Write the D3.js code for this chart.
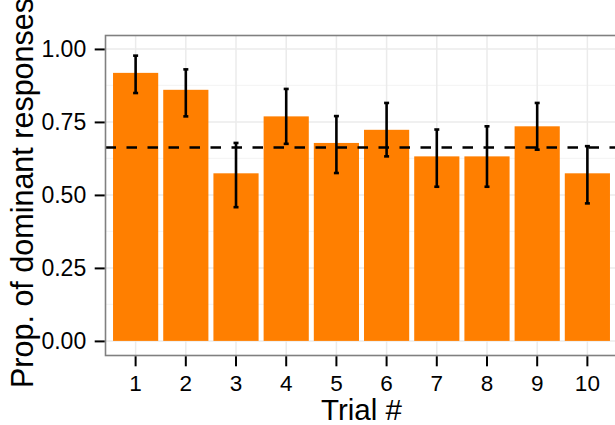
<!DOCTYPE html>
<html>
<head>
<meta charset="utf-8">
<script src="https://cdn.jsdelivr.net/npm/d3@7"></script>
<style>
  html, body { margin: 0; padding: 0; background: #fff; }
  svg text { font-family: "Liberation Sans", Arial, Helvetica, sans-serif; fill: #000; }
</style>
</head>
<body>
<svg id="chart" width="615" height="425"></svg>
<script>
// data
const trials = ["1", "2", "3", "4", "5", "6", "7", "8", "9", "10"];
const propDominant = [0.918, 0.860, 0.574, 0.769, 0.678, 0.723, 0.632, 0.632, 0.735, 0.574];
const errLow = [0.849, 0.769, 0.458, 0.675, 0.575, 0.632, 0.528, 0.528, 0.655, 0.471];
const errHigh = [0.977, 0.930, 0.678, 0.863, 0.770, 0.815, 0.724, 0.735, 0.815, 0.667];
const overallMean = 0.662;
const yTicks = [0, 0.25, 0.5, 0.75, 1];
const yMinor = [0.125, 0.375, 0.625, 0.875];

const svg = d3.select("#chart");
const panel = { left: 105.5, top: 35.5, right: 617.5, bottom: 355.5 };

const x = d3.scaleBand()
    .domain(trials)
    .range([panel.left, panel.right])
    .paddingInner(0.1)
    .paddingOuter(0.15);

const y = d3.scaleLinear()
    .domain([-0.05, 1.046])
    .range([panel.bottom, panel.top]);

const bars = trials.map((t, i) => ({ t, v: propDominant[i], lo: errLow[i], hi: errHigh[i] }));

// panel background + grid
svg.append("rect")
    .attr("x", panel.left).attr("y", panel.top)
    .attr("width", panel.right - panel.left).attr("height", panel.bottom - panel.top)
    .attr("fill", "#fff");

const grid = svg.append("g");
grid.selectAll(".minor")
    .data(yMinor)
    .join("line")
    .attr("x1", panel.left).attr("x2", panel.right)
    .attr("y1", d => y(d)).attr("y2", d => y(d))
    .attr("stroke", "#f5f5f5").attr("stroke-width", 1.2);
grid.selectAll(".major")
    .data(yTicks)
    .join("line")
    .attr("x1", panel.left).attr("x2", panel.right)
    .attr("y1", d => y(d)).attr("y2", d => y(d))
    .attr("stroke", "#ebebeb").attr("stroke-width", 1.5);
grid.selectAll(".vmajor")
    .data(trials)
    .join("line")
    .attr("x1", d => x(d) + x.bandwidth() / 2).attr("x2", d => x(d) + x.bandwidth() / 2)
    .attr("y1", panel.top).attr("y2", panel.bottom)
    .attr("stroke", "#ebebeb").attr("stroke-width", 1.5);

// bars
svg.append("g")
    .selectAll("rect")
    .data(bars)
    .join("rect")
    .attr("x", d => x(d.t))
    .attr("y", d => y(d.v))
    .attr("width", x.bandwidth())
    .attr("height", d => y(0) - y(d.v))
    .attr("fill", "#ff7f00");

// mean line
svg.append("line")
    .attr("x1", panel.left).attr("x2", panel.right)
    .attr("y1", y(overallMean)).attr("y2", y(overallMean))
    .attr("stroke", "#000")
    .attr("stroke-width", 2.5)
    .attr("stroke-dasharray", "10.5,10.5");

// error bars
const capW = x.step() * 0.05;
const eb = svg.append("g")
    .selectAll("g")
    .data(bars)
    .join("g")
    .attr("stroke", "#000")
    .attr("stroke-width", 2.6);
eb.append("line")
    .attr("x1", d => x(d.t) + x.bandwidth() / 2).attr("x2", d => x(d.t) + x.bandwidth() / 2)
    .attr("y1", d => y(d.lo)).attr("y2", d => y(d.hi));
eb.append("line")
    .attr("x1", d => x(d.t) + x.bandwidth() / 2 - capW).attr("x2", d => x(d.t) + x.bandwidth() / 2 + capW)
    .attr("y1", d => y(d.lo)).attr("y2", d => y(d.lo));
eb.append("line")
    .attr("x1", d => x(d.t) + x.bandwidth() / 2 - capW).attr("x2", d => x(d.t) + x.bandwidth() / 2 + capW)
    .attr("y1", d => y(d.hi)).attr("y2", d => y(d.hi));

// panel border
svg.append("rect")
    .attr("x", panel.left).attr("y", panel.top)
    .attr("width", panel.right - panel.left).attr("height", panel.bottom - panel.top)
    .attr("fill", "none")
    .attr("stroke", "#808080")
    .attr("stroke-width", 1.6);

// axes
const yAxis = d3.axisLeft(y)
    .tickValues(yTicks)
    .tickFormat(d3.format(".2f"))
    .tickSize(10)
    .tickPadding(8.5);

svg.append("g")
    .attr("transform", `translate(${panel.left - 0.8},0)`)
    .call(yAxis)
    .call(g => g.select(".domain").remove())
    .call(g => g.selectAll(".tick line").attr("stroke", "#000").attr("stroke-width", 2))
    .call(g => g.selectAll(".tick text").attr("font-size", 23).attr("fill", "#000"));

const xAxis = d3.axisBottom(x)
    .tickSize(10)
    .tickPadding(9);

svg.append("g")
    .attr("transform", `translate(0,${panel.bottom + 0.8})`)
    .call(xAxis)
    .call(g => g.select(".domain").remove())
    .call(g => g.selectAll(".tick line").attr("stroke", "#000").attr("stroke-width", 2))
    .call(g => g.selectAll(".tick text").attr("font-size", 22.5).attr("fill", "#000"));

// axis titles
svg.append("text")
    .attr("x", (panel.left + panel.right) / 2)
    .attr("y", 420)
    .attr("text-anchor", "middle")
    .attr("font-size", 29.5)
    .text("Trial #");

svg.append("text")
    .attr("transform", `translate(33,${193}) rotate(-90)`)
    .attr("text-anchor", "middle")
    .attr("font-size", 30.5)
    .text("Prop. of dominant responses");
</script>
</body>
</html>
